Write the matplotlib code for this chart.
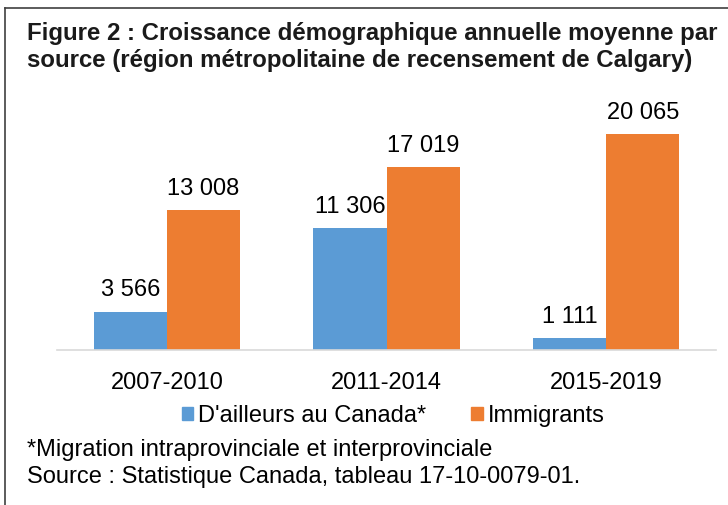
import matplotlib
matplotlib.use("Agg")
import matplotlib.pyplot as plt
from matplotlib.lines import Line2D
from matplotlib.patches import Patch
import numpy as np

plt.rcParams["font.family"] = ["Liberation Sans", "DejaVu Sans"]

periods = ["2007-2010", "2011-2014", "2015-2019"]
canada = [3566, 11306, 1111]
immigrants = [13008, 17019, 20065]
series_names = ["D'ailleurs au Canada*", "Immigrants"]
blue = "#5B9BD5"
orange = "#ED7D31"


def fmt(v):
    return f"{v:,}".replace(",", " ")


W, H = 728, 505
fig = plt.figure(figsize=(W / 100, H / 100), dpi=100)

ax = fig.add_axes([57 / W, (H - 350) / H, (716 - 57) / W, (350 - 81) / H])
x = np.arange(len(periods))
w = 1 / 3
b1 = ax.bar(x - w / 2, canada, w, color=blue)
b2 = ax.bar(x + w / 2, immigrants, w, color=orange)
for bars, vals in [(b1, canada), (b2, immigrants)]:
    for r, v in zip(bars, vals):
        ax.annotate(fmt(v), (r.get_x() + r.get_width() / 2, v),
                    xytext=(0, 11), textcoords="offset points",
                    ha="center", va="baseline", fontsize=17, color="#000000")

ax.set_xlim(-0.5, 2.5)
ax.set_ylim(0, 25000)
ax.set_yticks([])
ax.set_xticks(x)
ax.set_xticklabels(periods, fontsize=17)
ax.tick_params(axis="x", length=0, pad=16)
for s in ["top", "right", "left"]:
    ax.spines[s].set_visible(False)
ax.spines["bottom"].set_color("#D9D9D9")
ax.spines["bottom"].set_linewidth(1.2)

handles = [Patch(color=blue), Patch(color=orange)]
fig.legend(handles, series_names, loc="center", bbox_to_anchor=(393 / W, 1 - 416 / H),
           ncol=2, frameon=False, fontsize=17, handlelength=0.5, handleheight=0.5,
           handletextpad=0.2, columnspacing=1.9, borderpad=0)

fig.text(27 / W, 1 - 40 / H,
         "Figure 2 : Croissance démographique annuelle moyenne par",
         fontsize=17.3, fontweight="bold", color="#1a1a1a", va="baseline")
fig.text(27 / W, 1 - 67 / H,
         "source (région métropolitaine de recensement de Calgary)",
         fontsize=17.3, fontweight="bold", color="#1a1a1a", va="baseline")
fig.text(27 / W, 1 - 456 / H, "*Migration intraprovinciale et interprovinciale",
         fontsize=17, va="baseline")
fig.text(27 / W, 1 - 483 / H, "Source : Statistique Canada, tableau 17-10-0079-01.",
         fontsize=17, va="baseline")

# frame lines
fig.add_artist(Line2D([5 / W, 5 / W], [0, 1 - 8 / H], color="#404040", lw=1.2))
fig.add_artist(Line2D([5 / W, 1], [1 - 8 / H, 1 - 8 / H], color="#404040", lw=1.2))

fig.savefig("out.png", dpi=100)
